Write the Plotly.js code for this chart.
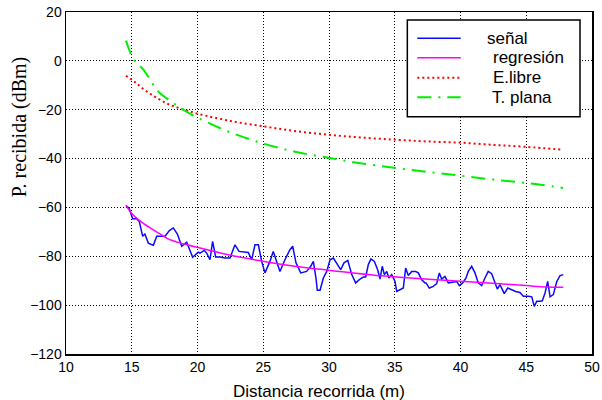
<!DOCTYPE html>
<html>
<head>
<meta charset="utf-8">
<script src="https://cdn.plot.ly/plotly-3.0.1.min.js"></script>
<style>html,body{margin:0;padding:0;background:#fff;}#chart{width:602px;height:400px;}</style>
</head>
<body>
<div id="chart"></div>
<script>
// Señal medida
const senalX = [14.56,14.8,15.07,15.37,15.57,15.83,16.0,16.26,16.64,16.9,17.53,17.86,18.16,18.47,18.8,19.18,19.63,20.06,20.19,20.52,20.7,20.95,21.15,21.38,21.71,22.09,22.47,22.85,23.16,23.48,23.86,24.12,24.37,24.63,24.88,25.13,25.38,25.51,25.76,26.27,26.65,27.03,27.24,27.49,27.85,28.3,28.61,28.81,29.01,29.11,29.32,29.57,29.83,30.08,30.33,30.59,30.89,31.14,31.43,31.73,32.03,32.36,32.61,32.79,32.99,33.19,33.45,33.7,33.88,34.05,34.21,34.39,34.56,34.77,35.02,35.15,35.4,35.65,35.83,36.03,36.29,36.59,36.79,37.05,37.3,37.38,37.63,37.93,38.19,38.39,38.57,38.82,39.07,39.45,39.71,39.91,40.17,40.42,40.59,40.85,41.1,41.35,41.61,41.86,42.11,42.37,42.62,42.8,43.0,43.33,43.59,43.89,44.2,44.52,44.78,45.16,45.42,45.61,45.8,46.05,46.22,46.43,46.63,46.81,47.06,47.32,47.57,47.82];
const senalY = [-59.2,-60.3,-64.6,-64.6,-65.7,-71.8,-70.9,-74.6,-75.5,-71.8,-71.8,-69.5,-68.4,-70.9,-75.9,-74.2,-80.4,-78.3,-78.7,-77.6,-78.7,-81.4,-73.9,-80.3,-80.3,-80.7,-80.7,-75.3,-78.0,-78.3,-78.4,-81.4,-75.3,-75.3,-82.1,-86.8,-84.1,-82.1,-78.0,-86.2,-81.4,-77.3,-75.9,-82.7,-86.8,-86.2,-84.1,-82.1,-88.9,-93.9,-93.9,-88.9,-86.2,-81.4,-80.7,-82.7,-85.5,-82.7,-81.7,-87.5,-90.9,-89.3,-88.5,-88.5,-83.4,-81.1,-82.1,-85.5,-89.3,-84.1,-87.5,-86.2,-88.9,-87.5,-90.3,-94.4,-93.7,-93.0,-84.8,-87.9,-86.2,-86.2,-86.8,-89.6,-90.9,-90.9,-93.0,-92.3,-91.2,-86.8,-89.3,-88.2,-90.9,-90.7,-90.3,-92.0,-90.9,-88.9,-86.2,-84.1,-86.8,-90.9,-92.0,-88.9,-86.2,-87.1,-90.3,-93.4,-91.6,-95.3,-93.0,-93.7,-94.4,-94.8,-96.4,-96.4,-96.6,-100.5,-98.4,-98.4,-98.2,-95.0,-90.3,-96.6,-95.7,-90.3,-87.9,-87.5];

// Regresión
const regX = [14.56,15.0,15.6,16.4,17.2,17.9,19.2,20.2,22.0,25.5,28.0,31.2,34.0,37.3,40.0,43.0,45.0,46.5,47.82];
const regY = [-59.2,-62.5,-65.4,-68.4,-71.0,-73.2,-75.3,-76.6,-79.0,-82.5,-84.5,-86.4,-88.0,-89.3,-90.2,-91.2,-92.0,-92.6,-92.7];

// Espacio libre
const libreX = [14.56,15.2,16.0,17.0,17.9,19.0,20.06,22.5,25.1,27.5,30.08,32.5,35.1,37.5,40.0,42.5,45.0,47.8];
const libreY = [-6.1,-8.5,-12.0,-15.5,-18.0,-20.0,-21.7,-24.6,-26.9,-28.8,-30.3,-31.4,-32.3,-33.0,-33.5,-34.4,-35.2,-36.4];

// Tierra plana
const planaX = [14.56,15.17,15.9,17.0,18.0,19.0,20.06,22.5,25.1,27.5,30.08,32.5,35.1,37.5,40.0,42.5,45.0,47.8];
const planaY = [8.3,0.4,-3.7,-12.5,-16.6,-20.3,-23.4,-29.3,-34.0,-37.3,-39.8,-42.0,-43.9,-45.5,-47.0,-48.6,-50.0,-52.0];

const names = ["señal", "regresión", "E.libre", "T. plana"];
const xTitle = "Distancia recorrida (m)";
const yTitle = "P. recibida (dBm)";

const lines = [
  {color: "#0a0aff", width: 1.5},
  {color: "#ff00ff", width: 1.5},
  {color: "#ff0000", width: 2, dash: "2px,3px"},
  {color: "#00ee00", width: 2, dash: "14px,7px,2px,7px"}
];

const traces = [
  {x: senalX, y: senalY, name: names[0], mode: "lines", line: lines[0]},
  {x: regX, y: regY, name: names[1], mode: "lines", line: Object.assign({shape: "spline"}, lines[1])},
  {x: libreX, y: libreY, name: names[2], mode: "lines", line: Object.assign({shape: "spline"}, lines[2])},
  {x: planaX, y: planaY, name: names[3], mode: "lines", line: Object.assign({shape: "spline"}, lines[3])}
];

// Legend box (paper coordinates)
const legBox = {x0: 0.6489, x1: 0.9772, y0: 0.6939, y1: 0.9766};
const legRowY = [0.9231, 0.8664, 0.8079, 0.7506];
const legLineX = [0.6679, 0.7504];
const legTextX = [0.7985, 0.8093, 0.8093, 0.8074];

const shapes = [{type: "rect", xref: "paper", yref: "paper",
  x0: legBox.x0, x1: legBox.x1, y0: legBox.y0, y1: legBox.y1,
  fillcolor: "#fff", line: {color: "#000", width: 1.5}, layer: "above"}];
const annotations = [
  {text: xTitle, xref: "paper", yref: "paper", x: 0.481, y: -0.111,
   xanchor: "center", yanchor: "middle", showarrow: false,
   font: {family: "Liberation Sans, Arial, sans-serif", size: 17, color: "#000"}},
  {text: yTitle, xref: "paper", yref: "paper", x: -0.088, y: 0.665,
   xanchor: "center", yanchor: "middle", showarrow: false, textangle: -90,
   font: {family: "Liberation Serif, Times New Roman, serif", size: 20, color: "#000"}}
];
names.forEach((n, i) => {
  shapes.push({type: "line", xref: "paper", yref: "paper",
    x0: legLineX[0], x1: legLineX[1], y0: legRowY[i], y1: legRowY[i],
    line: lines[i], layer: "above"});
  annotations.push({text: n, xref: "paper", yref: "paper", x: legTextX[i], y: legRowY[i],
    xanchor: "left", yanchor: "middle", showarrow: false, borderpad: 0,
    font: {family: "Liberation Sans, Arial, sans-serif", size: 17, color: "#000"}});
});

const axisCommon = {
  showline: true, linecolor: "#000", linewidth: 1.5, mirror: true,
  showgrid: true, gridcolor: "#000", gridwidth: 1, griddash: "1px,2px",
  zeroline: false, ticks: "",
  tickfont: {family: "Liberation Sans, Arial, sans-serif", size: 14, color: "#000"}
};

const layout = {
  width: 602, height: 400,
  margin: {l: 66, r: 10, t: 12, b: 46},
  paper_bgcolor: "#fff", plot_bgcolor: "#fff",
  showlegend: false,
  xaxis: Object.assign({}, axisCommon, {
    range: [10, 50], tickvals: [10,15,20,25,30,35,40,45,50]
  }),
  yaxis: Object.assign({}, axisCommon, {
    range: [-120, 20], tickvals: [-120,-100,-80,-60,-40,-20,0,20]
  }),
  shapes: shapes,
  annotations: annotations
};

Plotly.newPlot("chart", traces, layout, {staticPlot: true, displayModeBar: false});
</script>
</body>
</html>
